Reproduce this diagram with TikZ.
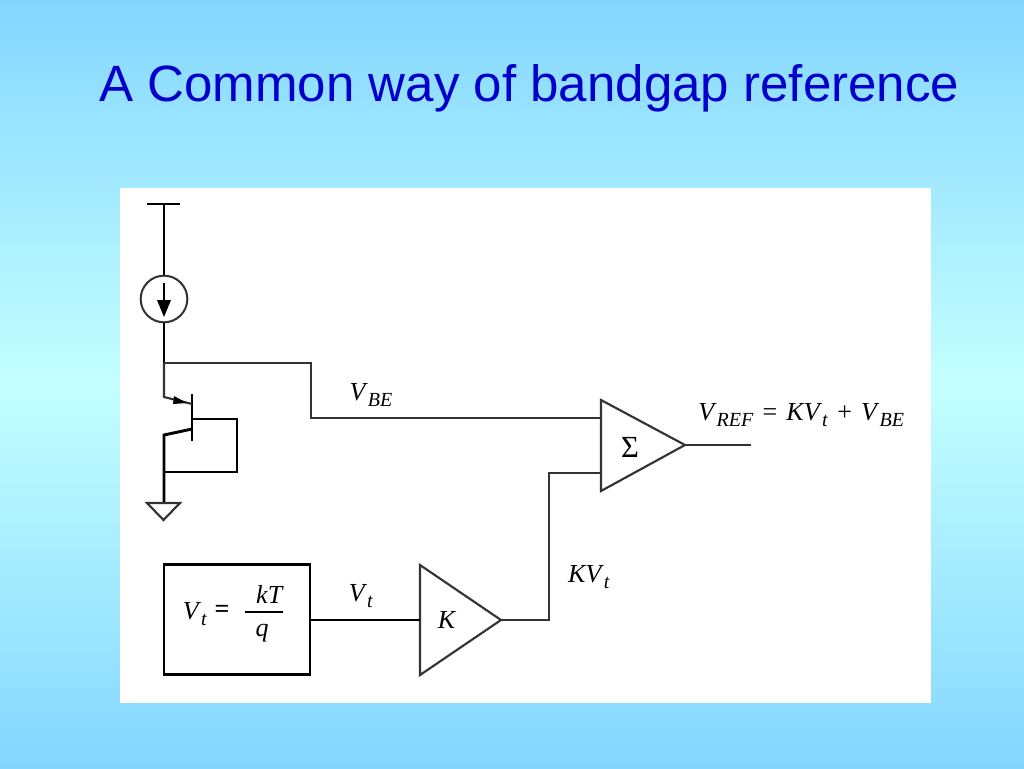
\documentclass[tikz,border=0pt]{standalone}
\usepackage{fontspec}
\setmainfont{Liberation Serif}
\newfontfamily\titlefont{Liberation Sans}
\newcommand{\ita}[1]{\textit{#1}}
\newcommand{\low}[1]{\raisebox{-0.22em}{\fontsize{15}{15}\selectfont\textit{#1}}}
\definecolor{skyedge}{HTML}{84D6FF}
\definecolor{skymid}{HTML}{C4FFFF}
\definecolor{titleblue}{HTML}{0000CC}
\definecolor{wiregray}{HTML}{333333}
\usetikzlibrary{positioning}
\begin{document}
\begin{tikzpicture}[x=0.75pt, y=-0.75pt,
		heavy/.style={line width=2.2pt, black},
		wire/.style={line width=1.6pt, wiregray},
		lbl/.style={inner sep=0pt, font=\fontsize{19.5}{22}\selectfont},
		head/.style={inner sep=0pt, anchor=base west, text=titleblue, font=\titlefont\fontsize{38.3}{42}\selectfont}]
	\useasboundingbox (0, 0) rectangle (1024, 768);
	\fill[skyedge] (0, 0) rectangle (1024, 768);
	\shade[top color=skyedge, bottom color=skymid] (0, 0) rectangle (1024, 384);
	\shade[top color=skymid, bottom color=skyedge] (0, 384) rectangle (1024, 768);
	\fill[white] (120, 188) rectangle (931, 703);
	\node[head] (title) at (99, 101) {A Common way of bandgap reference};
	% supply and current source
	\coordinate (vl) at (147, 204);
	\coordinate (vr) at (180, 204);
	\coordinate (vm) at (164, 204);
	\node[circle, draw, wiregray, line width=1.5pt, minimum size=35pt, inner sep=0pt] (src) at (164, 299) {};
	\coordinate (srca) at (164, 283);
	\coordinate (srcb) at (164, 317);
	\coordinate (junc) at (164, 363);
	\draw[heavy] (vl) -- (vr);
	\draw[heavy] (vm) -- (src);
	\draw[heavy] (src) -- (junc);
	\draw[heavy] (srca) -- (164, 303);
	\fill (157, 300) -- (171, 300) -- (srcb) -- cycle;
	% transistor
	\coordinate (bt) at (192, 394);
	\coordinate (bb) at (192, 441);
	\coordinate (em) at (164, 397);
	\coordinate (emb) at (192, 404);
	\coordinate (col) at (164, 435);
	\coordinate (colb) at (192, 429);
	\coordinate (base) at (192, 419);
	\coordinate (br) at (237, 419);
	\coordinate (tr) at (237, 472);
	\coordinate (foot) at (164, 472);
	\coordinate (gnd) at (164, 503);
	\draw[heavy] (bt) -- (bb);
	\draw[wire] (junc) -- (em) -- (emb);
	\fill (174, 396) -- (187, 403) -- (173, 404) -- cycle;
	\draw[heavy] (colb) -- (col) -- (foot) -- (gnd);
	\draw[heavy] (base) -- (br) -- (tr) -- (foot);
	\draw[wire] (147, 503) -- (180, 503) -- (163.5, 520) -- cycle;
	% summer
	\coordinate (sa) at (601, 400);
	\coordinate (sb) at (601, 491);
	\coordinate (sc) at (685, 445);
	\coordinate (si) at (601, 418);
	\coordinate (sj) at (601, 473);
	\coordinate (out) at (751, 445);
	\coordinate (p) at (311, 363);
	\coordinate (q) at (311, 418);
	\draw[wire] (sa) -- (sb) -- (sc) -- cycle;
	\draw[wire] (junc) -- (p) -- (q) -- (si);
	\draw[wire] (sc) -- (out);
	% gain and source
	\coordinate (ka) at (420, 565);
	\coordinate (kb) at (420, 675);
	\coordinate (kc) at (501, 620);
	\coordinate (ki) at (420, 620);
	\coordinate (r) at (549, 620);
	\coordinate (s) at (549, 473);
	\node[draw, line width=2.2pt, minimum width=109.5pt, minimum height=83pt, inner sep=0pt] (vtbox) at (237, 619.5) {};
	\draw[wire] (ka) -- (kb) -- (kc) -- cycle;
	\draw[heavy] (vtbox.east |- ki) -- (ki);
	\draw[wire] (kc) -- (r) -- (s) -- (sj);
	\coordinate (fl) at (245, 612);
	\coordinate (fr) at (283, 612);
	\draw[heavy] (fl) -- (fr);
	% labels
	\node[lbl] (lbe) at (371, 395) {\ita{V}\low{BE}};
	\node[lbl, font=\fontsize{23}{25}\selectfont] (lsum) at (630, 447) {Σ};
	\node[lbl, anchor=west] (lref) at (698, 415) {\ita{V}\low{REF}\hspace{2pt} = \hspace{2pt}\ita{KV}\low{t}\hspace{2pt} + \hspace{2pt}\ita{V}\low{BE}};
	\node[lbl] (lkv) at (589, 577) {\ita{KV}\low{t}};
	\node[lbl] (lvt) at (361, 596) {\ita{V}\low{t}};
	\node[lbl] (lk) at (447, 620) {\ita{K}};
	\node[lbl] (lv) at (195, 614) {\ita{V}\low{t}};
	\node[lbl, font=\fontsize{19.5}{22}\bfseries\selectfont] (leq) at (222, 611) {=};
	\node[lbl] (lkt) at (270, 594) {\ita{kT}};
	\node[lbl] (lq) at (262, 633) {\ita{q}};
\end{tikzpicture}
\end{document}
